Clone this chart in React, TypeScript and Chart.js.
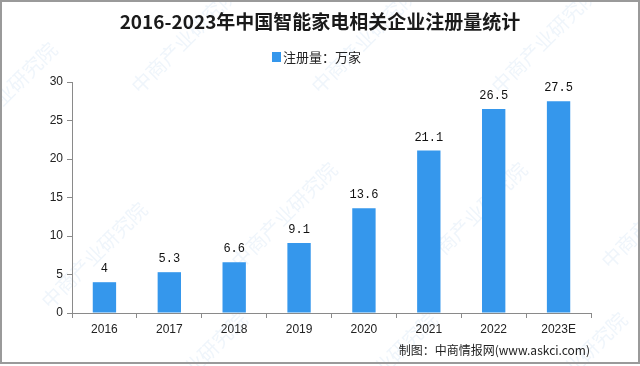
import React, { useEffect, useRef } from "react";
import { Chart, registerables } from "chart.js";

Chart.register(...registerables);

const categories = ["2016", "2017", "2018", "2019", "2020", "2021", "2022", "2023E"];
const registrations = [4, 5.3, 6.6, 9.1, 13.6, 21.1, 26.5, 27.5];
const yTicks = [0, 5, 10, 15, 20, 25, 30];
const titleText = "2016-2023年中国智能家电相关企业注册量统计";
const legendText = "注册量：万家";
const sourceText = "制图：中商情报网(www.askci.com)";
const watermarkText = "中商产业研究院";

const BAR_COLOR = "#3597ec";

const decorPlugin = {
  id: "decor",
  beforeDraw(chart: any) {
    const ctx = chart.ctx;
    ctx.save();
    ctx.fillStyle = "#ffffff";
    ctx.fillRect(0, 0, chart.width, chart.height);
    // watermarks
    ctx.font = "20px 'Noto Sans CJK SC'";
    ctx.fillStyle = "rgba(120,170,225,0.12)";
    const spots = [
      [-40, 150], [140, 95], [320, 95], [500, 95],
      [50, 310], [240, 270], [430, 270], [610, 270],
      [150, 420], [340, 420], [530, 420],
    ];
    for (const [x, y] of spots) {
      ctx.save();
      ctx.translate(x, y);
      ctx.rotate(-Math.PI / 4);
      ctx.fillText(watermarkText, 0, 0);
      ctx.restore();
    }
    ctx.restore();
  },
  afterDraw(chart: any) {
    const ctx = chart.ctx;
    ctx.save();
    // border frame
    ctx.strokeStyle = "#9a9a9a";
    ctx.lineWidth = 2;
    ctx.strokeRect(1, 1, chart.width - 2, chart.height - 4);
    // title
    ctx.fillStyle = "#1a1a1a";
    ctx.textAlign = "center";
    ctx.textBaseline = "middle";
    ctx.font = "bold 19px 'Noto Sans CJK SC'";
    ctx.fillText(titleText, 320, 22);
    // legend
    ctx.fillStyle = BAR_COLOR;
    ctx.fillRect(272, 52, 9, 10);
    ctx.fillStyle = "#222";
    ctx.textAlign = "left";
    ctx.font = "13px 'Noto Sans CJK SC'";
    ctx.fillText(legendText, 283, 57);
    // source
    ctx.textAlign = "right";
    ctx.font = "12px 'Noto Sans CJK SC'";
    ctx.fillStyle = "#222";
    ctx.fillText(sourceText, 590, 350);
    // data labels
    const meta = chart.getDatasetMeta(0);
    ctx.textAlign = "center";
    ctx.textBaseline = "bottom";
    ctx.font = "12px 'Liberation Mono'";
    ctx.fillStyle = "#111";
    meta.data.forEach((el: any, i: number) => {
      ctx.fillText(String(registrations[i]), el.x, el.y - 7);
    });
    ctx.restore();
  },
};

export default function App() {
  const ref = useRef<HTMLCanvasElement | null>(null);
  useEffect(() => {
    document.body.style.margin = "0";
    const chart = new Chart(ref.current!, {
      type: "bar",
      data: {
        labels: categories,
        datasets: [
          {
            label: legendText,
            data: registrations,
            backgroundColor: BAR_COLOR,
            barPercentage: 0.36,
            categoryPercentage: 1,
          },
        ],
      },
      options: {
        responsive: false,
        animation: false,
        layout: { padding: { top: 82, left: 0, right: 49, bottom: 28 } },
        plugins: {
          legend: { display: false },
          title: { display: false },
          tooltip: { enabled: false },
        },
        scales: {
          x: {
            grid: {
              drawOnChartArea: false,
              drawTicks: true,
              tickLength: 5,
              color: "#8a8a8a",
              offset: true,
            },
            border: { color: "#8a8a8a", width: 1 },
            ticks: {
              color: "#222",
              font: { family: "'Liberation Sans'", size: 12 },
              padding: 4,
              maxRotation: 0,
            },
            afterFit(scale: any) {
              scale.height = 25;
            },
          },
          y: {
            min: 0,
            max: 30,
            afterBuildTicks(scale: any) {
              scale.ticks = yTicks.map((v) => ({ value: v }));
            },
            grid: {
              drawOnChartArea: false,
              drawTicks: true,
              tickLength: 5,
              color: "#8a8a8a",
            },
            border: { color: "#8a8a8a", width: 1 },
            ticks: {
              color: "#222",
              font: { family: "'Liberation Sans'", size: 12 },
              padding: 4,
            },
            afterFit(scale: any) {
              scale.width = 72;
            },
          },
        },
      },
      plugins: [decorPlugin],
    });
    return () => chart.destroy();
  }, []);
  return <canvas ref={ref} width={640} height={366} style={{ display: "block" }} />;
}
